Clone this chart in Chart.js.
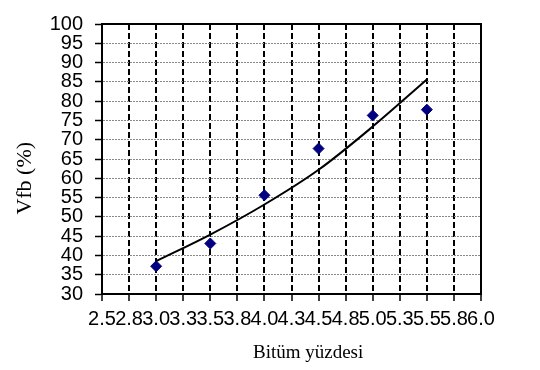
<!DOCTYPE html>
<html>
<head>
<meta charset="utf-8">
<script src="https://cdn.jsdelivr.net/npm/chart.js@4/dist/chart.umd.min.js"></script>
<style>
  html, body { margin: 0; padding: 0; background: #ffffff; }
  canvas { display: block; }
</style>
</head>
<body>
<canvas id="chart" width="540" height="370"></canvas>
<script>
// Measured Vfb values against bitumen content
const bitumPercent = [3.0, 3.5, 4.0, 4.5, 5.0, 5.5];
const vfbValues = [37.2, 43.1, 55.6, 67.7, 76.3, 77.8];

// Exponential trend curve, sampled at the same bitumen contents
const trendX = [3.0, 3.5, 4.0, 4.5, 5.0, 5.5];
const trendValues = [38.5, 45.4, 53.2, 62.2, 73.4, 85.6];

// Axis tick labels (one decimal, as printed)
const xTickLabels = ['2.5', '2.8', '3.0', '3.3', '3.5', '3.8', '4.0', '4.3',
                     '4.5', '4.8', '5.0', '5.3', '5.5', '5.8', '6.0'];
const yTickLabels = ['30', '35', '40', '45', '50', '55', '60', '65',
                     '70', '75', '80', '85', '90', '95', '100'];

const xTitle = 'Bitüm yüzdesi';
const yTitle = 'Vfb (%)';

// Closes the plot box on the top and right sides
const plotFrame = {
  id: 'plotFrame',
  beforeDatasetsDraw(chart) {
    const { ctx, chartArea: a } = chart;
    ctx.save();
    ctx.strokeStyle = '#000000';
    ctx.lineWidth = 2;
    ctx.setLineDash([]);
    ctx.strokeRect(a.left, a.top, a.right - a.left, a.bottom - a.top);
    ctx.restore();
  }
};

new Chart(document.getElementById('chart'), {
  type: 'scatter',
  data: {
    datasets: [
      {
        label: 'Vfb',
        data: bitumPercent.map((x, i) => ({ x: x, y: vfbValues[i] })),
        pointStyle: 'rectRot',
        pointRadius: 5.5,
        backgroundColor: '#000080',
        borderColor: '#000080',
        borderWidth: 1,
        showLine: false,
        order: 2
      },
      {
        label: 'Trend',
        data: trendX.map((x, i) => ({ x: x, y: trendValues[i] })),
        showLine: true,
        borderColor: '#000000',
        borderWidth: 2,
        pointRadius: 0,
        cubicInterpolationMode: 'monotone',
        fill: false,
        order: 1
      }
    ]
  },
  options: {
    responsive: false,
    animation: false,
    devicePixelRatio: 1,
    layout: { padding: { left: 0, top: 21, right: 59, bottom: 0 } },
    plugins: {
      legend: { display: false },
      tooltip: { enabled: false }
    },
    scales: {
      x: {
        type: 'linear',
        position: 'bottom',
        min: 2.5,
        max: 6.0,
        afterFit(scale) { scale.height = 76; },
        ticks: {
          stepSize: 0.25,
          autoSkip: false,
          maxRotation: 0,
          minRotation: 0,
          padding: 6,
          color: '#000000',
          font: { family: 'Liberation Sans', size: 20 },
          callback: (value, index) => xTickLabels[index]
        },
        grid: {
          color: '#000000',
          lineWidth: 2,
          drawTicks: true,
          tickLength: 7,
          tickColor: '#000000',
          tickWidth: 1.5,
          tickBorderDash: []
        },
        border: { display: true, color: '#000000', width: 2, dash: [6, 3] },
        title: {
          display: true,
          text: '       ' + xTitle,
          color: '#000000',
          font: { family: 'Liberation Serif', size: 19 },
          padding: { top: 0, bottom: 5.5 }
        }
      },
      y: {
        min: 30,
        max: 100,
        afterFit(scale) { scale.width = 102; },
        ticks: {
          stepSize: 5,
          autoSkip: false,
          padding: 12,
          color: '#000000',
          font: { family: 'Liberation Sans', size: 20 },
          callback: (value, index) => yTickLabels[index]
        },
        grid: {
          color: '#8a8a8a',
          lineWidth: 1,
          drawTicks: true,
          tickLength: 7,
          tickColor: '#000000',
          tickWidth: 1.5,
          tickBorderDash: []
        },
        border: { display: true, color: '#000000', width: 2, dash: [2, 1] },
        title: {
          display: true,
          text: yTitle + '       ',
          color: '#000000',
          font: { family: 'Liberation Serif', size: 22 },
          padding: { top: 12.4, bottom: 0 }
        }
      }
    }
  },
  plugins: [plotFrame]
});
</script>
</body>
</html>
